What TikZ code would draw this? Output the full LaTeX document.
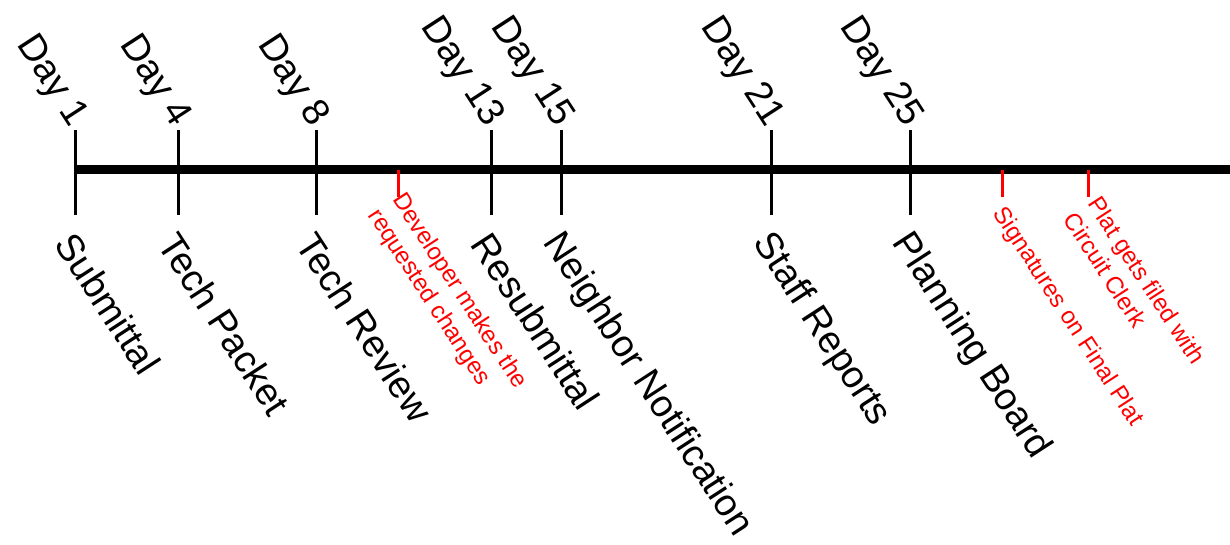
\documentclass[tikz,border=0pt]{standalone}
\usepackage{fontspec}
\setmainfont{Liberation Sans}
\begin{document}
\begin{tikzpicture}[x=1pt,y=-1pt,
  big/.style={font=\fontsize{38}{45}\selectfont, inner sep=0pt, rotate=-57},
  small/.style={font=\fontsize{24}{29}\selectfont, text=red, inner sep=0pt, rotate=-57, align=left},
  tickline/.style={line width=3pt, black},
  rtickline/.style={line width=3pt, red},
  axis/.style={line width=9pt, black}]
\useasboundingbox (0,0) rectangle (1230,545);
\coordinate (start) at (75,170);
\coordinate (end) at (1230,170);
\draw[axis] (start) -- (end);
\foreach \x/\d/\lab/\n in {75/1/Submittal/a, 178/4/Tech Packet/b, 316/8/Tech Review/c, 491/13/Resubmittal/d, 561/15/Neighbor Notification/e, 771/21/Staff Reports/f, 910/25/Planning Board/g} {
  \coordinate (t\n) at (\x,130);
  \coordinate (b\n) at (\x,215);
  \draw[tickline] (t\n) -- (b\n);
  \node[big, anchor=east] (day\n) at (\x+3,123) {Day \d};
  \node[big, anchor=west] (lab\n) at (\x-10,237) {\lab};
}
\foreach \x/\n in {398/p, 1002/q, 1088/r} {
  \coordinate (rt\n) at (\x,170);
  \coordinate (rb\n) at (\x,197);
  \draw[rtickline] (rt\n) -- (rb\n);
}
\node[small, anchor=west] (labp) at (385,204) {Developer makes the\\requested changes};
\node[small, anchor=west] (labq) at (998,210) {Signatures on Final Plat};
\node[small, anchor=west] (labr) at (1082,207) {Plat gets filed with\\Circuit Clerk};
\end{tikzpicture}
\end{document}
